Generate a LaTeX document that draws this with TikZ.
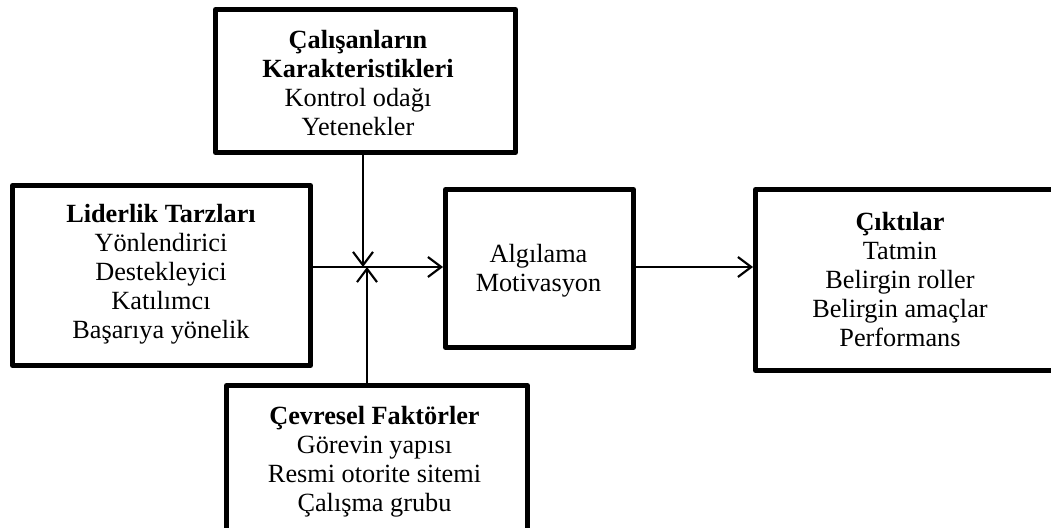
\documentclass[tikz,border=0pt]{standalone}
\usepackage{fontspec}
\setmainfont{Liberation Serif}
\usetikzlibrary{arrows.meta}
\begin{document}
\begin{tikzpicture}[x=0.75pt,y=-0.75pt,
  frame/.style 2 args={draw, line width=3.75pt, line join=round, inner sep=0pt,
    anchor=north west, minimum width=#1*0.75pt, minimum height=#2*0.75pt},
  txt/.style={align=center, inner sep=0pt,
    font=\fontsize{19.7pt}{21.75pt}\selectfont},
  conn/.style={line width=1.6pt, -{Straight Barb[length=10pt, width=15pt]}}]
\useasboundingbox (0,0) rectangle (1051,528);
\clip (0,0) rectangle (1051,528);

% boxes (outer corner, centre-line size)
\node[frame={300}{143}] (emp) at (213,7) {};
\node[frame={298}{180}] (lead) at (10,183) {};
\node[frame={188}{158}] (perc) at (443,187) {};
\node[frame={301}{180}] (env) at (224,383) {};
\node[frame={305}{181}] (res) at (753,187) {};

% texts
\node[txt] (empT) at (358,83) {\textbf{Çalışanların}\\\textbf{Karakteristikleri}\\Kontrol odağı\\Yetenekler};
\node[txt] (leadT) at (161,274) {\textbf{Liderlik Tarzları}\\Yönlendirici\\Destekleyici\\Katılımcı\\Başarıya yönelik};
\node[txt] (percT) at (538.5,271) {Algılama\\Motivasyon};
\node[txt] (envT) at (374.5,461.5) {\textbf{Çevresel Faktörler}\\Görevin yapısı\\Resmi otorite sitemi\\Çalışma grubu};
\node[txt] (resT) at (900,279.5) {\textbf{Çıktılar}\\Tatmin\\Belirgin roller\\Belirgin amaçlar\\Performans};

% connectors
\coordinate (jt) at (363,267);
\coordinate (jb) at (367,267);
\coordinate (jh) at (0,267);
\draw[conn] (emp.south -| jt) -- (jt);
\draw[conn] (env.north -| jb) -- (jb);
\draw[conn] (lead.east |- jh) -- (perc.west |- jh);
\draw[conn] (perc.east |- jh) -- (res.west |- jh);
\end{tikzpicture}
\end{document}
